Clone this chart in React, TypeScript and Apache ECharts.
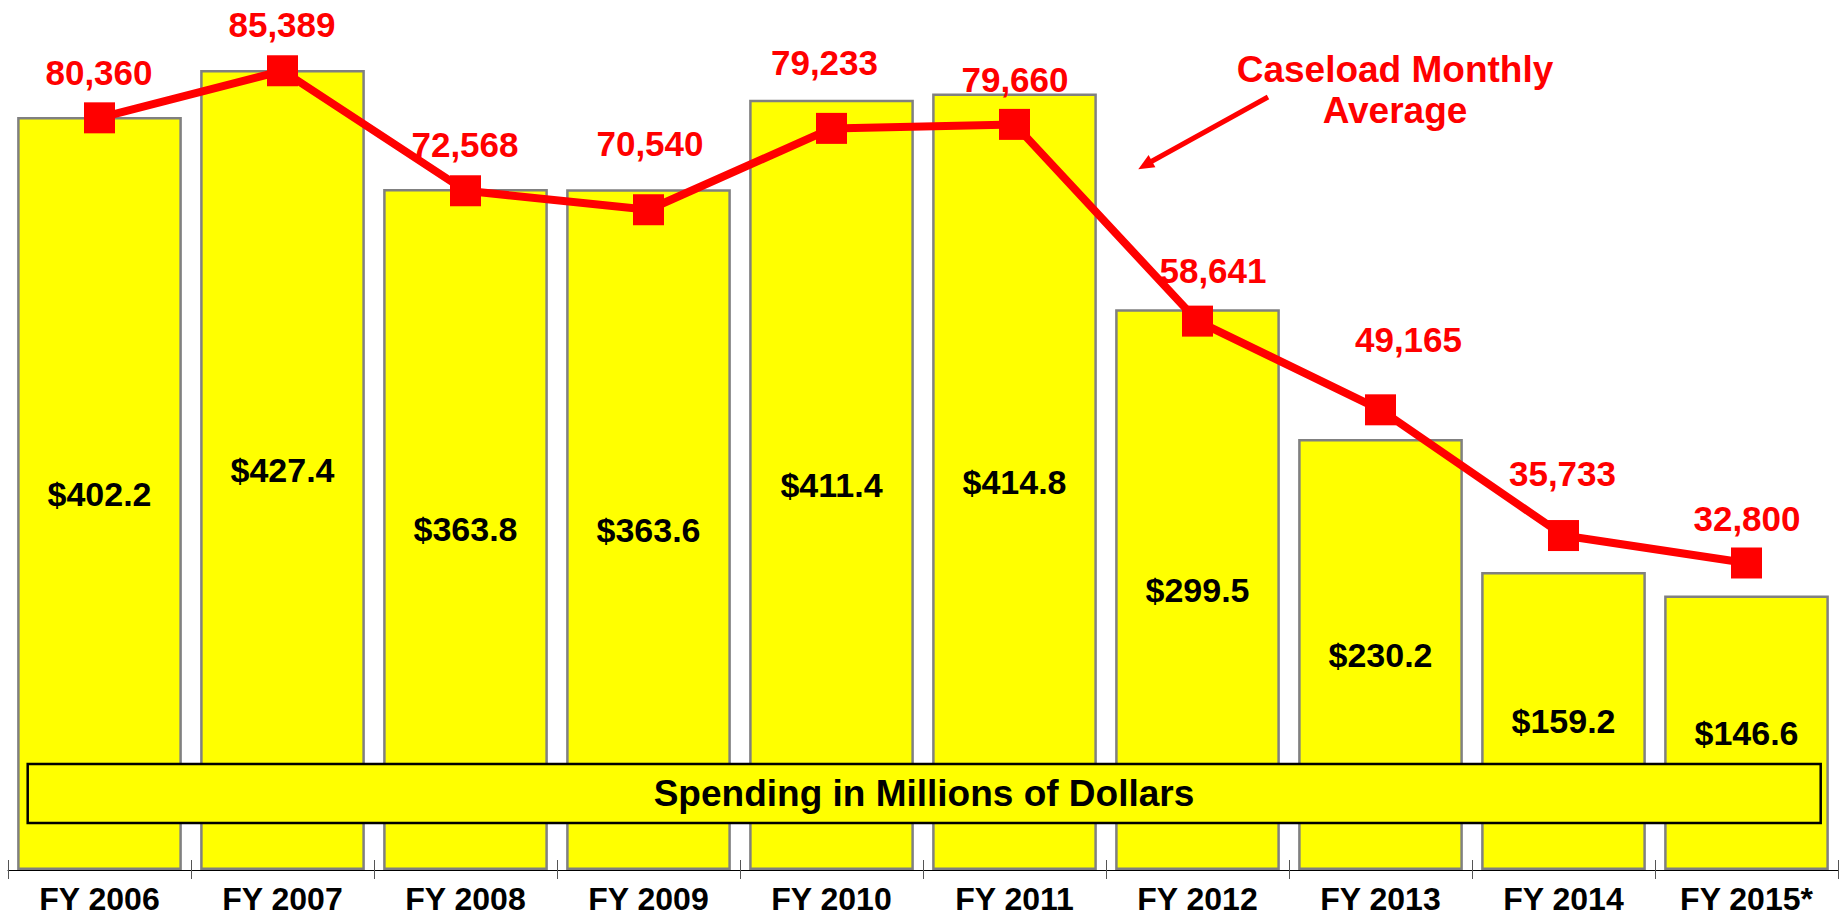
import React, { useEffect, useRef } from "react";
import * as echarts from "echarts";

const categories = ["FY 2006", "FY 2007", "FY 2008", "FY 2009", "FY 2010", "FY 2011", "FY 2012", "FY 2013", "FY 2014", "FY 2015*"];
const spending = [402.2, 427.4, 363.8, 363.6, 411.4, 414.8, 299.5, 230.2, 159.2, 146.6];
const caseload = [80360, 85389, 72568, 70540, 79233, 79660, 58641, 49165, 35733, 32800];
const caseloadLabelOffsets = [
  [-0.5, -45.5], [-0.5, -46], [-0.5, -46], [1.5, -66.5], [-7, -66],
  [0.5, -45], [15.5, -50.5], [28, -70.5], [-1, -62], [0.5, -44.5],
];
const annotationLines = ["Caseload Monthly", "Average"];
const boxTitle = "Spending in Millions of Dollars";

const FONT = "'Liberation Sans', Arial, sans-serif";

export default function App() {
  const ref = useRef<HTMLDivElement>(null);
  useEffect(() => {
    if (!ref.current) return;
    const chart = echarts.init(ref.current, null, { renderer: "svg" });
    const fmt = (v: number) => v.toLocaleString("en-US");
    chart.setOption({
      animation: false,
      backgroundColor: "#ffffff",
      grid: { left: 8, right: 1, top: 27.6, bottom: 45, containLabel: false },
      xAxis: [
        {
          type: "category",
          data: categories,
          axisLine: { show: true, lineStyle: { color: "#000", width: 1 } },
          axisTick: { show: true, length: 9, lineStyle: { color: "#555", width: 1 } },
          axisLabel: { color: "#000", fontSize: 32, fontWeight: "bold", fontFamily: FONT, margin: 13 },
        },
        {
          type: "category",
          data: categories,
          position: "bottom",
          axisLine: { show: false },
          axisTick: { show: true, inside: true, length: 10, lineStyle: { color: "#555", width: 1 } },
          axisLabel: { show: false },
        },
      ],
      yAxis: [
        { type: "value", min: 0, max: 450, show: false, splitLine: { show: false } },
        { type: "value", min: 0, max: 90000, show: false, splitLine: { show: false } },
      ],
      series: [
        {
          type: "bar",
          data: spending,
          barWidth: "90%",
          xAxisIndex: 0,
          yAxisIndex: 0,
          itemStyle: { color: "#ffff00", borderColor: "#808080", borderWidth: 2.5 },
          label: {
            show: true,
            position: "inside",
            formatter: (p: any) => "$" + p.value.toFixed(1),
            color: "#000",
            fontSize: 34,
            fontWeight: "bold",
            fontFamily: FONT,
          },
          z: 2,
        },
        {
          type: "line",
          xAxisIndex: 0,
          yAxisIndex: 1,
          data: caseload.map((v, i) => ({
            value: v,
            label: { offset: caseloadLabelOffsets[i] },
          })),
          symbol: "rect",
          symbolSize: 31,
          lineStyle: { color: "#ff0000", width: 8 },
          itemStyle: { color: "#ff0000" },
          label: {
            show: true,
            position: "inside",
            formatter: (p: any) => fmt(p.value),
            color: "#ff0000",
            fontSize: 35,
            fontWeight: "bold",
            fontFamily: FONT,
          },
          z: 5,
        },
      ],
      graphic: [
        {
          type: "rect",
          shape: { x: 27.7, y: 764, width: 1793, height: 59 },
          style: { fill: "#ffff00", stroke: "#000", lineWidth: 2.5 },
          z: 10,
        },
        {
          type: "text",
          x: 924,
          y: 793.5,
          style: {
            text: boxTitle,
            fill: "#000",
            font: `bold 37px ${FONT}`,
            textAlign: "center",
            textVerticalAlign: "middle",
          },
          z: 11,
        },
        {
          type: "text",
          x: 1395,
          y: 69.5,
          style: {
            text: annotationLines[0],
            fill: "#ff0000",
            font: `bold 37px ${FONT}`,
            textAlign: "center",
            textVerticalAlign: "middle",
          },
          z: 11,
        },
        {
          type: "text",
          x: 1395,
          y: 110.8,
          style: {
            text: annotationLines[1],
            fill: "#ff0000",
            font: `bold 37px ${FONT}`,
            textAlign: "center",
            textVerticalAlign: "middle",
          },
          z: 11,
        },
        {
          type: "line",
          shape: { x1: 1268, y1: 97, x2: 1150, y2: 162.3 },
          style: { stroke: "#ff0000", lineWidth: 5 },
          z: 11,
        },
        {
          type: "polygon",
          shape: { points: [[1138.3, 169.3], [1155.4, 167.3], [1148.6, 155.1]] },
          style: { fill: "#ff0000" },
          z: 11,
        },
      ],
    });
    return () => chart.dispose();
  }, []);
  return (
    <div
      ref={ref}
      style={{ position: "fixed", left: 0, top: 0, width: 1839, height: 915 }}
    />
  );
}
